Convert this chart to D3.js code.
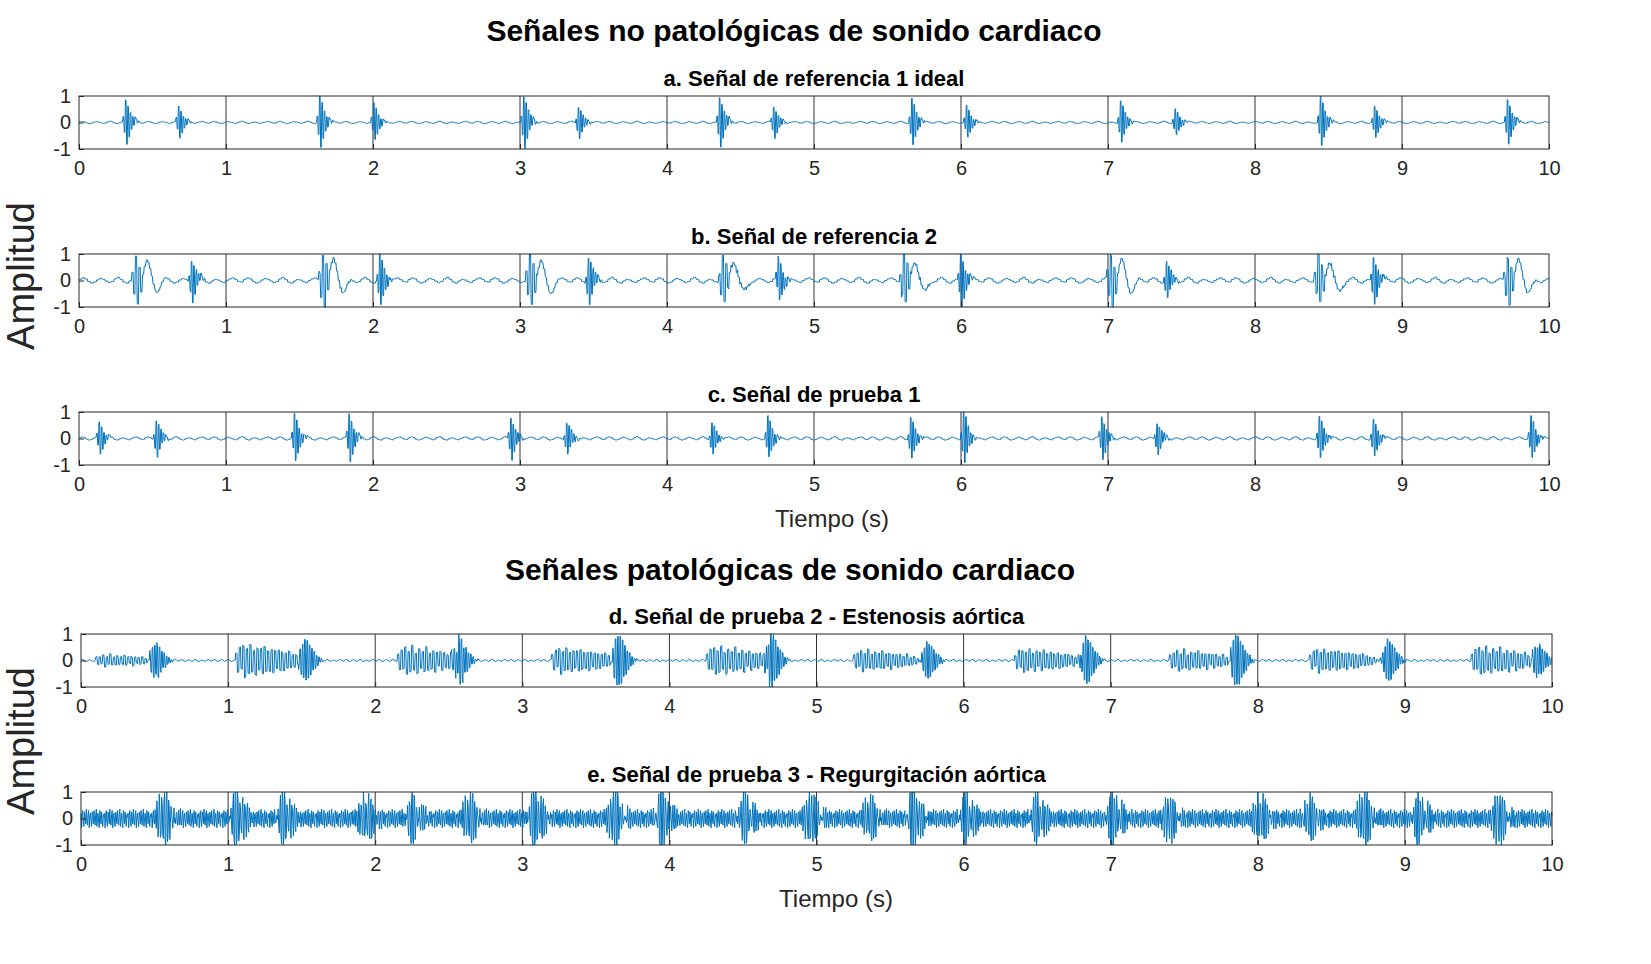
<!DOCTYPE html>
<html><head><meta charset="utf-8">
<script src="https://cdn.jsdelivr.net/npm/d3@7"></script>
<style>body{margin:0;background:#fff}text{font-family:"Liberation Sans",Arial,sans-serif}</style>
</head><body><svg id="chart" width="1651" height="964"></svg>
<script>
// sample step of all signals (s)
const dt = 0.004;
const xTicks = [0, 1, 2, 3, 4, 5, 6, 7, 8, 9, 10];
const yTicks = [-1, 0, 1];

// sound shapes, one value per step
const shapeSharp = [0, 0.25, -0.45, 1, -0.95, 0.75, -0.6, 0.45, -0.3, 0.25, -0.15, 0.2, 0.1, -0.05, 0.05, 0];
const shapeSlow = [0, 0.3, -0.6, 1, -0.95, 0.6, -0.4, 0.3, 0.6, 0.8, 0.7, 0.4, 0.1, -0.2, -0.4, -0.45, -0.35, -0.2, -0.1, 0];
const shapeBurst = [0.1, -0.2, 0.35, -0.5, 0.7, -0.85, 1, -0.95, 0.9, -0.85, 0.75, -0.65, 0.55, -0.5, 0.4, -0.35, 0.28, -0.22, 0.16, -0.12, 0.08, -0.05, 0.03, 0];
const shapeMurmur = [0.4, -0.6, 0.7, -0.5, 0.8, -0.9, 0.6, -0.7, 0.9, -0.6, 0.5, -0.8, 0.7, -0.5, 0.6, -0.7, 0.8, -0.6, 0.5, -0.55, 0.6, -0.7, 0.5, -0.4, 0.55, -0.6, 0.45, -0.5, 0.4, -0.45, 0.5, -0.35, 0.3, -0.4, 0.3, -0.25, 0.2, -0.2, 0.1, 0];
const baseWiggle = [0.02, 0.05, 0.03, -0.02, -0.05, -0.03, 0.01, 0.04, 0.02, -0.01, -0.04, -0.02, 0.03, 0.06, 0.02, -0.03, -0.05, -0.01, 0.02, 0.01, -0.02, -0.04, 0.0, 0.03, 0.05, 0.02, -0.02, -0.03];
const denseNoise = [0.2, -0.35, 0.1, 0.3, -0.15, -0.3, 0.25, 0.05, -0.2, 0.35, -0.1, -0.25, 0.15, 0.3, -0.35, 0.05, 0.2, -0.1, -0.3, 0.25, 0.1, -0.2, 0.3, -0.05, -0.25, 0.15, 0.35, -0.3, 0.0, 0.2, -0.15, -0.35, 0.3, 0.1, -0.2, 0.25, -0.05, -0.3, 0.15, 0.05];

// events per panel: [time s, amplitude, shape]
const eventsA = [[0.29,0.85,"s"],[0.65,0.6,"s"],[1.61,1,"s"],[1.98,0.7,"s"],[3.0,1,"s"],[3.37,0.6,"s"],[4.33,0.95,"s"],[4.7,0.6,"s"],[5.64,0.9,"s"],[6.01,0.6,"s"],[7.06,0.8,"s"],[7.43,0.5,"s"],[8.42,0.95,"s"],[8.79,0.6,"s"],[9.69,0.85,"s"]];
const eventsB = [[0.35,0.9,"w"],[0.74,0.8,"s"],[1.62,1,"w"],[2.02,1,"s"],[3.03,1,"w"],[3.44,0.9,"s"],[4.34,0.9,"w"],[4.73,0.8,"s"],[5.57,0.95,"w"],[5.97,1,"s"],[6.98,1,"w"],[7.37,0.7,"s"],[8.39,0.9,"w"],[8.78,0.9,"s"],[9.68,0.9,"w"]];
const eventsC = [[0.11,0.6,"s"],[0.5,0.7,"s"],[1.44,0.9,"s"],[1.81,0.9,"s"],[2.91,0.8,"s"],[3.29,0.6,"s"],[4.28,0.6,"s"],[4.66,0.8,"s"],[5.63,0.8,"s"],[5.99,1,"s"],[6.93,0.8,"s"],[7.31,0.6,"s"],[8.41,0.8,"s"],[8.78,0.7,"s"],[9.85,0.8,"s"]];
const eventsD = [[0.1,0.25,"m"],[0.45,0.65,"b"],[1.05,0.7,"m"],[1.47,0.8,"b"],[2.15,0.6,"m"],[2.52,0.8,"b"],[3.2,0.55,"m"],[3.6,1,"b"],[4.25,0.6,"m"],[4.64,1,"b"],[5.25,0.45,"m"],[5.7,0.7,"b"],[6.35,0.5,"m"],[6.78,0.9,"b"],[7.4,0.45,"m"],[7.8,1,"b"],[8.35,0.5,"m"],[8.83,0.8,"b"],[9.45,0.6,"m"],[9.85,0.6,"b"]];
const eventsE = [[0.5,0.9,"b"],[1.0,1,"b"],[1.32,0.9,"b"],[1.87,0.8,"b"],[2.2,0.7,"b"],[2.58,0.8,"b"],[3.03,1,"b"],[3.57,0.9,"b"],[3.89,0.9,"b"],[4.45,0.8,"b"],[4.9,0.85,"b"],[5.3,0.7,"b"],[5.6,0.9,"b"],[5.96,0.8,"b"],[6.44,0.8,"b"],[6.96,0.9,"b"],[7.34,0.7,"b"],[7.95,0.8,"b"],[8.29,0.7,"b"],[8.66,0.9,"b"],[9.04,0.8,"b"],[9.58,0.8,"b"]];

const panels = [
  {title: "a. Señal de referencia 1 ideal", events: eventsA, base: baseWiggle, baseAmp: 0.8, baseHold: 4, left: 79, right: 1549, top: 96},
  {title: "b. Señal de referencia 2", events: eventsB, base: baseWiggle, baseAmp: 2.0, baseHold: 5, left: 79, right: 1549, top: 254},
  {title: "c. Señal de prueba 1", events: eventsC, base: baseWiggle, baseAmp: 1.2, baseHold: 4, left: 79, right: 1549, top: 412},
  {title: "d. Señal de prueba 2 - Estenosis aórtica", events: eventsD, base: baseWiggle, baseAmp: 0.8, baseHold: 2, left: 81, right: 1552, top: 634},
  {title: "e. Señal de prueba 3 - Regurgitación aórtica", events: eventsE, base: denseNoise, baseAmp: 1.0, baseHold: 1, left: 81, right: 1552, top: 792}
];
const shapes = {s: shapeSharp, w: shapeSlow, b: shapeBurst, m: shapeMurmur};
const holds = {s: 2, w: 3, b: 2, m: 3};
const plotH = 53;

function buildSignal(p) {
  const n = Math.round(10 / dt) + 1;
  const y = d3.range(n).map(i => p.base[Math.floor(i / p.baseHold) % p.base.length] * p.baseAmp);
  p.events.forEach(([t, a, k]) => {
    const sh = shapes[k], h = holds[k], i0 = Math.round(t / dt);
    for (let j = 0; j < sh.length * h; j++) {
      if (i0 + j < n) y[i0 + j] += sh[Math.floor(j / h)] * a;
    }
  });
  return y.map((v, i) => [i * dt, Math.max(-1, Math.min(1, v))]);
}

const svg = d3.select("#chart");

panels.forEach(p => {
  const x = d3.scaleLinear().domain([0, 10]).range([p.left, p.right]);
  const y = d3.scaleLinear().domain([-1, 1]).range([p.top + plotH, p.top]);
  const g = svg.append("g");

  g.selectAll(".grid").data(xTicks.slice(1, -1)).join("line")
    .attr("x1", d => x(d)).attr("x2", d => x(d))
    .attr("y1", p.top).attr("y2", p.top + plotH)
    .attr("stroke", "#333").attr("stroke-width", 1);

  g.append("path").datum(buildSignal(p))
    .attr("fill", "none").attr("stroke", "#0072BD").attr("stroke-width", 1)
    .attr("d", d3.line().x(d => x(d[0])).y(d => y(d[1])));

  g.append("rect").attr("x", p.left).attr("y", p.top)
    .attr("width", p.right - p.left).attr("height", plotH)
    .attr("fill", "none").attr("stroke", "#262626");

  const xa = g.append("g").attr("transform", `translate(0,${p.top + plotH})`)
    .call(d3.axisBottom(x).tickValues(xTicks).tickFormat(d => String(d)).tickSize(-5).tickPadding(12));
  const ya = g.append("g").attr("transform", `translate(${p.left},0)`)
    .call(d3.axisLeft(y).tickValues(yTicks).tickFormat(d => String(d)).tickSize(-5).tickPadding(8));
  [xa, ya].forEach(a => {
    a.select(".domain").remove();
    a.selectAll("text").style("font-size", "20px").attr("fill", "#262626");
    a.selectAll("line").attr("stroke", "#262626");
  });

  g.append("text").attr("x", (p.left + p.right) / 2).attr("y", p.top - 10)
    .attr("text-anchor", "middle").style("font-size", "22px").style("font-weight", "bold")
    .text(p.title);
});

const labels = [
  {t: "Señales no patológicas de sonido cardiaco", x: 794, y: 41, s: 30, b: true},
  {t: "Señales patológicas de sonido cardiaco", x: 790, y: 580, s: 30, b: true},
  {t: "Tiempo (s)", x: 832, y: 527, s: 24},
  {t: "Tiempo (s)", x: 836, y: 907, s: 24}
];
labels.forEach(l => svg.append("text").attr("x", l.x).attr("y", l.y)
  .attr("text-anchor", "middle").style("font-size", l.s + "px")
  .style("font-weight", l.b ? "bold" : "normal").attr("fill", l.b ? "#000" : "#262626").text(l.t));

[276, 741].forEach(cy => svg.append("text")
  .attr("transform", `translate(34,${cy}) rotate(-90)`)
  .attr("text-anchor", "middle").style("font-size", "38px").attr("fill", "#262626").text("Amplitud"));
</script></body></html>
